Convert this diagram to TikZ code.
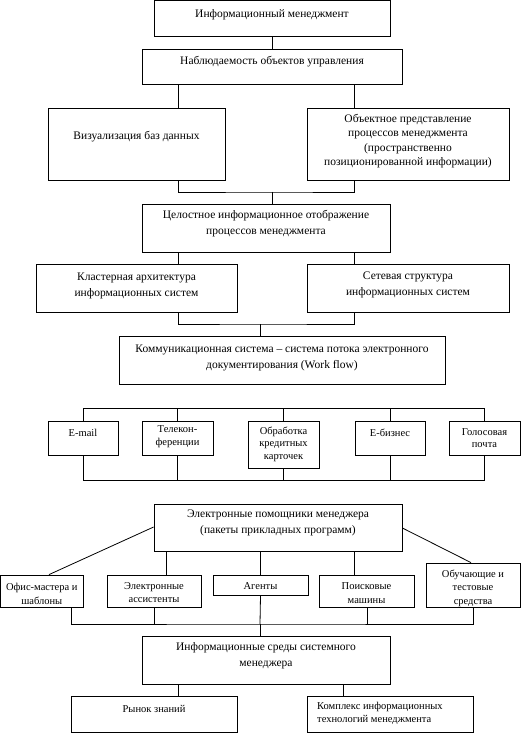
\documentclass[tikz,border=0pt]{standalone}
\usepackage{fontspec}
\setmainfont{Liberation Serif}
\newcommand\mybox[8]{%
 \pgfmathsetmacro\cx{(#2+#4)/2}\pgfmathsetmacro\cy{(#3+#5)/2}%
 \pgfmathsetmacro\bw{#4-#2}\pgfmathsetmacro\bh{#5-#3}%
 \node[box,minimum width=\bw pt,minimum height=\bh pt] (#1) at (\cx,\cy) {};%
 \node[#7] (#1t) at (\cx,#6) {#8};}
\begin{document}
\begin{tikzpicture}[x=1pt,y=-1pt,
 box/.style={draw, line width=0.8pt, inner sep=0pt},
 big/.style={align=center, inner sep=0pt, font=\fontsize{11.5}{16}\selectfont},
 bigt/.style={align=center, inner sep=0pt, font=\fontsize{11.5}{14.5}\selectfont},
 small/.style={align=center, inner sep=0pt, font=\fontsize{10.5}{12.5}\selectfont},
 smallb/.style={align=center, inner sep=0pt, font=\fontsize{10.5}{13.5}\selectfont},
 smallL/.style={align=left, inner sep=0pt, font=\fontsize{10.5}{13.5}\selectfont},
 ln/.style={line width=0.8pt}]
\useasboundingbox (0,0) rectangle (531,735);
\mybox{im}{154}{0.5}{390}{36}{15}{big}{Информационный менеджмент}
\mybox{nab}{142}{49}{402}{84}{62}{big}{Наблюдаемость объектов управления}
\mybox{viz}{48}{108}{225}{180}{137}{big}{Визуализация баз данных}
\mybox{obj}{307}{108}{509}{180}{141}{bigt}{Объектное представление\\процессов менеджмента\\(пространственно\\позиционированной информации)}
\mybox{cel}{142}{204}{390}{252}{224}{big}{Целостное информационное отображение\\процессов менеджмента}
\mybox{kl}{36}{264}{237}{312}{286}{big}{Кластерная архитектура\\информационных систем}
\mybox{set}{307}{264}{509}{312}{284.5}{big}{Сетевая структура\\информационных систем}
\mybox{kom}{119}{336}{445}{384}{357.5}{big}{Коммуникационная система – система потока электронного\\документирования (Work flow)}
\mybox{e1}{48}{421}{118}{455}{433}{small}{E-mail}
\mybox{e2}{142}{421}{213}{455}{436.5}{small}{Телекон-\\ференции}
\mybox{e3}{248}{421}{319}{468}{444}{small}{Обработка\\кредитных\\карточек}
\mybox{e4}{355}{421}{425}{455}{433}{small}{E-бизнес}
\mybox{e5}{449}{421}{520}{455}{438}{small}{Голосовая\\почта}
\mybox{ep}{154}{504}{402}{551}{523}{big}{Электронные помощники менеджера\\(пакеты прикладных программ)}
\mybox{p1}{0.5}{575}{83}{607}{594}{smallb}{Офис-мастера и\\шаблоны}
\mybox{p2}{107}{575}{201}{607}{592.5}{smallb}{Электронные\\ассистенты}
\mybox{p3}{213}{575}{308}{595}{586}{smallb}{Агенты}
\mybox{p4}{319}{575}{414}{607}{593}{smallb}{Поисковые\\машины}
\mybox{p5}{426}{563}{520}{607}{588}{smallb}{Обучающие и\\тестовые\\средства}
\mybox{is}{142}{636}{390}{684}{655.5}{big}{Информационные среды системного\\менеджера}
\mybox{rz}{71}{696}{237}{732}{709}{small}{Рынок знаний}
\node[box,minimum width=166pt,minimum height=36pt] (kt) at (390,714) {};
\node[smallL,anchor=west] (ktt) at (317,713.5) {Комплекс информационных\\технологий менеджмента};
% connectors
\draw[ln] (im.south) -- (nab.north);
\draw[ln] (178,0 |- nab.south) -- (178,0 |- viz.north);
\draw[ln] (354,0 |- nab.south) -- (354,0 |- obj.north);
\coordinate (j1) at (272,192);
\draw[ln] (178,0 |- viz.south) |- (j1) -| (354,0 |- obj.south);
\draw[ln] (j1) -- (j1 |- cel.north);
\draw[ln] (178,0 |- cel.south) -- (178,0 |- kl.north);
\draw[ln] (354,0 |- cel.south) -- (354,0 |- set.north);
\coordinate (j2) at (260,324);
\draw[ln] (178,0 |- kl.south) |- (j2) -| (354,0 |- set.south);
\draw[ln] (j2) -- (j2 |- kom.north);
% five-box row
\coordinate (tb) at (0,408);
\coordinate (bb) at (0,480);
\draw[ln] (e1.north) -- (e1.north |- tb) -- (e5.north |- tb) -- (e5.north);
\foreach \n in {e2,e3,e4} \draw[ln] (\n.north) -- (\n.north |- tb);
\draw[ln] (e1.south) -- (e1.south |- bb) -- (e5.south |- bb) -- (e5.south);
\foreach \n in {e2,e3,e4} \draw[ln] (\n.south) -- (\n.south |- bb);
% helpers
\draw[ln] (ep.west |- 0,527) -- (49,0 |- p1.north);
\draw[ln] (ep.east |- 0,528) -- (471,0 |- p5.north);
\draw[ln] (166,0 |- ep.south) -- (166,0 |- p2.north);
\draw[ln] (260,0 |- ep.south) -- (260,0 |- p3.north);
\draw[ln] (354,0 |- ep.south) -- (354,0 |- p4.north);
\coordinate (b3) at (260,624);
\draw[ln] (71,0 |- p1.south) |- (b3) -| (p5.south);
\draw[ln] (p2.south) -- (p2.south |- b3);
\draw[ln] (p3.south) -- (b3);
\draw[ln] (367,0 |- p4.south) -- (367,0 |- b3);
\draw[ln] (b3) -- (b3 |- is.north);
\draw[ln] (178,0 |- is.south) -- (178,0 |- rz.north);
\draw[ln] (343,0 |- is.south) -- (343,0 |- kt.north);
\end{tikzpicture}
\end{document}
